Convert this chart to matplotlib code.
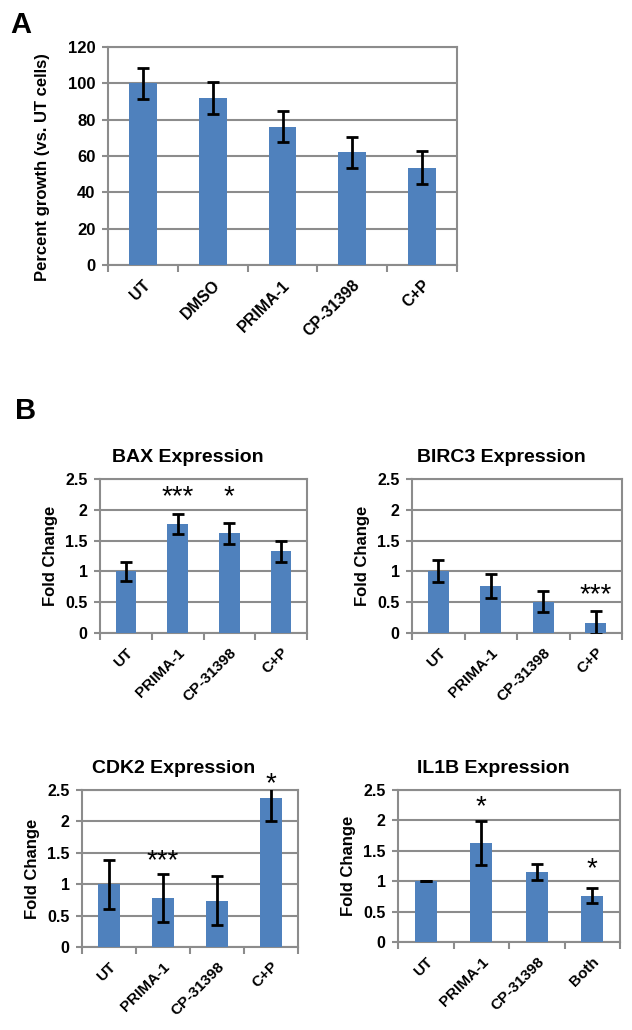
import numpy as np
import matplotlib
matplotlib.use("Agg")
import matplotlib.pyplot as plt

plt.rcParams['font.family'] = ['Liberation Sans', 'DejaVu Sans']
plt.rcParams['font.weight'] = 'bold'

# panel A data
growth_labels = ['UT', 'DMSO', 'PRIMA-1', 'CP-31398', 'C+P']
growth_vals = [100, 92, 76, 62, 53.5]
growth_err = [8.5, 8.7, 8.5, 8.5, 9]

# panel B data
genes = ['BAX', 'BIRC3', 'CDK2', 'IL1B']
b_labels = {
    'BAX': ['UT', 'PRIMA-1', 'CP-31398', 'C+P'],
    'BIRC3': ['UT', 'PRIMA-1', 'CP-31398', 'C+P'],
    'CDK2': ['UT', 'PRIMA-1', 'CP-31398', 'C+P'],
    'IL1B': ['UT', 'PRIMA-1', 'CP-31398', 'Both'],
}
bax_vals = [1.0, 1.77, 1.62, 1.33]
bax_err = [0.15, 0.16, 0.17, 0.17]
birc3_vals = [1.0, 0.76, 0.51, 0.17]
birc3_err = [0.18, 0.19, 0.17, 0.18]
cdk2_vals = [1.0, 0.78, 0.74, 2.38]
cdk2_err = [0.39, 0.38, 0.39, 0.37]
il1b_vals = [1.0, 1.63, 1.15, 0.76]
il1b_err = [0.0, 0.36, 0.135, 0.12]

# significance stars: (bar index, y value, text)
bax_stars = [(1, 2.2, '***'), (2, 2.2, '*')]
birc3_stars = [(3, 0.62, '***')]
cdk2_stars = [(1, 1.37, '***'), (3, 2.6, '*')]
il1b_stars = [(1, 2.22, '*'), (3, 1.19, '*')]

BAR = '#4F81BD'
GRID = '#8C8C8C'
W, H = 632, 1030

fig = plt.figure(figsize=(W / 100, H / 100), dpi=100)


def make_ax(left, right, top, bottom):
    return fig.add_axes([left / W, 1 - bottom / H, (right - left) / W, (bottom - top) / H])


def style_bars(ax, labels, vals, err, ymax, ystep, fs_tick, fs_lab):
    x = np.arange(len(labels))
    ax.bar(x, vals, width=0.4, color=BAR, zorder=3)
    ax.errorbar(x, vals, yerr=err, fmt='none', ecolor='black', elinewidth=2,
                capsize=4, capthick=2, zorder=4)
    ax.set_xlim(-0.5, len(labels) - 0.5)
    ax.set_ylim(0, ymax)
    ax.set_yticks(np.arange(0, ymax + ystep / 2, ystep))
    ax.yaxis.grid(True, color=GRID, linewidth=1.5, zorder=0)
    for s in ax.spines.values():
        s.set_color(GRID)
        s.set_linewidth(1.5)
    ax.tick_params(axis='y', colors=GRID, length=4, width=1.5, labelsize=fs_tick,
                   labelcolor='black', pad=5)
    ax.set_xticks(x)
    ax.set_xticklabels(labels, rotation=45, ha='right', rotation_mode='anchor',
                       fontsize=fs_lab, fontweight='bold')
    ax.tick_params(axis='x', length=0, pad=9)
    ax.set_xticks(np.arange(-0.5, len(labels)), minor=True)
    ax.tick_params(axis='x', which='minor', length=5, width=1.5, colors=GRID)
    for t in ax.get_yticklabels():
        t.set_fontweight('bold')


# Panel A
axA = make_ax(108, 457, 47, 265)
style_bars(axA, growth_labels, growth_vals, growth_err, 120, 20, 12, 11.5)
axA.set_ylabel('Percent growth (vs. UT cells)', fontsize=12, fontweight='bold')
axA.yaxis.set_label_coords(-0.165, 0.45)
fig.text(10 / W, 1 - 33 / H, 'A', fontsize=21, fontweight='bold')
fig.text(15 / W, 1 - 419 / H, 'B', fontsize=21, fontweight='bold')

panels = [
    ('BAX', bax_vals, bax_err, bax_stars, (100, 307, 479, 633)),
    ('BIRC3', birc3_vals, birc3_err, birc3_stars, (412, 622, 479, 633)),
    ('CDK2', cdk2_vals, cdk2_err, cdk2_stars, (82, 298, 790, 947)),
    ('IL1B', il1b_vals, il1b_err, il1b_stars, (398, 620, 790, 942)),
]

for gene, vals, err, stars, box in panels:
    ax = make_ax(*box)
    style_bars(ax, b_labels[gene], vals, err, 2.5, 0.5, 11.5, 11)
    ax.set_yticks([0, 0.5, 1, 1.5, 2, 2.5])
    ax.set_yticklabels(['0', '0.5', '1', '1.5', '2', '2.5'], fontweight='bold')
    ax.set_ylabel('Fold Change', fontsize=12, fontweight='bold', labelpad=5)
    # title centred over the whole chart area, a bit left of the plot centre
    shift = 16 / (box[1] - box[0])
    ax.set_title(gene + ' Expression', fontsize=14, fontweight='bold', pad=12,
                 x=0.5 - shift)
    for i, yv, s in stars:
        ax.text(i, yv, s, ha='center', va='center', fontsize=20, fontweight='normal',
                clip_on=False, zorder=5)

fig.savefig('out.png', dpi=100)
